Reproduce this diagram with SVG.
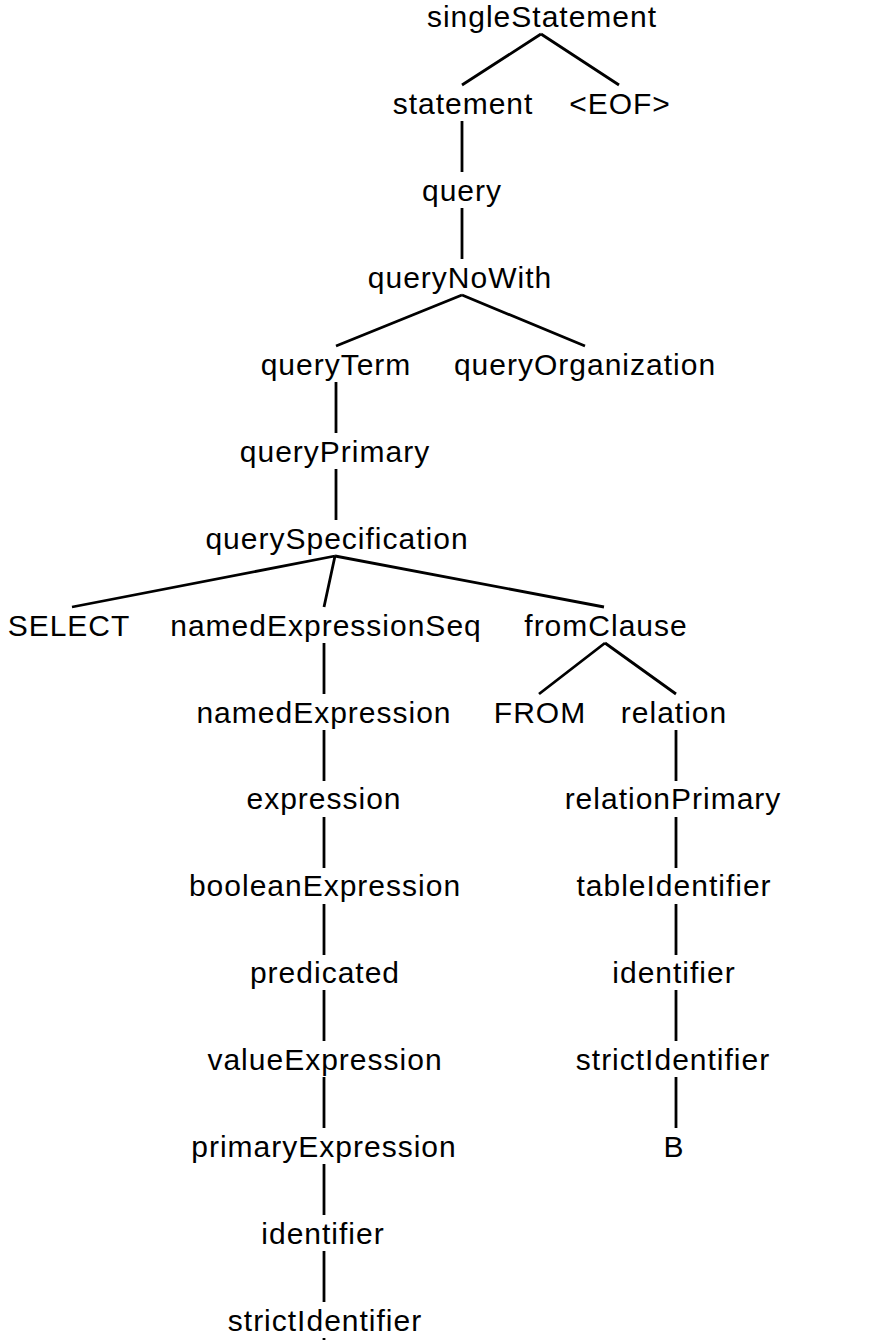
<svg xmlns="http://www.w3.org/2000/svg" width="892" height="1340" viewBox="0 0 892 1340">
<style>
text{font-family:"Liberation Sans",Arial,sans-serif;font-size:30px;letter-spacing:1px;fill:#000;text-anchor:middle}
.e{stroke:#000;stroke-width:2.8;fill:none;stroke-linecap:butt}
</style>
<rect width="892" height="1340" fill="#fff"/>
<g id="connectors" class="e">
<path d="M541 34L462 85M541 34L619 85"/>
<path d="M462 121V172"/>
<path d="M462 208V259"/>
<path d="M462 295L336 346M462 295L585 346"/>
<path d="M336 382V433"/>
<path d="M336 469V520"/>
<path d="M335 556L72 607M335 556L324 607M335 556L604 607"/>
<path d="M605 643L539 694M605 643L676 694"/>
<path d="M324 643V694"/>
<path d="M324 730V781"/>
<path d="M324 817V868"/>
<path d="M324 904V955"/>
<path d="M324 990V1041"/>
<path d="M324 1077V1128"/>
<path d="M324 1164V1215"/>
<path d="M324 1251V1302"/>
<path d="M324 1338V1340"/>
<path d="M676 730V781"/>
<path d="M676 817V868"/>
<path d="M676 904V955"/>
<path d="M676 990V1041"/>
<path d="M676 1077V1128"/>
</g>
<g id="n_singleStatement"><text x="542" y="27">singleStatement</text></g>
<g id="n_statement"><text x="463" y="114">statement</text></g>
<g id="n_EOF"><text x="620" y="114">&lt;EOF&gt;</text></g>
<g id="n_query"><text x="462" y="201">query</text></g>
<g id="n_queryNoWith"><text x="460" y="288">queryNoWith</text></g>
<g id="n_queryTerm"><text x="336" y="375">queryTerm</text></g>
<g id="n_queryOrganization"><text x="585" y="375">queryOrganization</text></g>
<g id="n_queryPrimary"><text x="335" y="462">queryPrimary</text></g>
<g id="n_querySpecification"><text x="337" y="549">querySpecification</text></g>
<g id="n_SELECT"><text x="69" y="636">SELECT</text></g>
<g id="n_namedExpressionSeq"><text x="326" y="636">namedExpressionSeq</text></g>
<g id="n_fromClause"><text x="606" y="636">fromClause</text></g>
<g id="n_namedExpression"><text x="324" y="723">namedExpression</text></g>
<g id="n_FROM"><text x="540" y="723">FROM</text></g>
<g id="n_relation"><text x="674" y="723">relation</text></g>
<g id="n_expression"><text x="324" y="809">expression</text></g>
<g id="n_relationPrimary"><text x="673" y="809">relationPrimary</text></g>
<g id="n_booleanExpression"><text x="325" y="896">booleanExpression</text></g>
<g id="n_tableIdentifier"><text x="674" y="896">tableIdentifier</text></g>
<g id="n_predicated"><text x="325" y="983">predicated</text></g>
<g id="n_identifier_r"><text x="674" y="983">identifier</text></g>
<g id="n_valueExpression"><text x="325" y="1070">valueExpression</text></g>
<g id="n_strictIdentifier_r"><text x="673" y="1070">strictIdentifier</text></g>
<g id="n_primaryExpression"><text x="324" y="1157">primaryExpression</text></g>
<g id="n_B"><text x="674" y="1157">B</text></g>
<g id="n_identifier_l"><text x="323" y="1244">identifier</text></g>
<g id="n_strictIdentifier_l"><text x="325" y="1331">strictIdentifier</text></g>
</svg>
